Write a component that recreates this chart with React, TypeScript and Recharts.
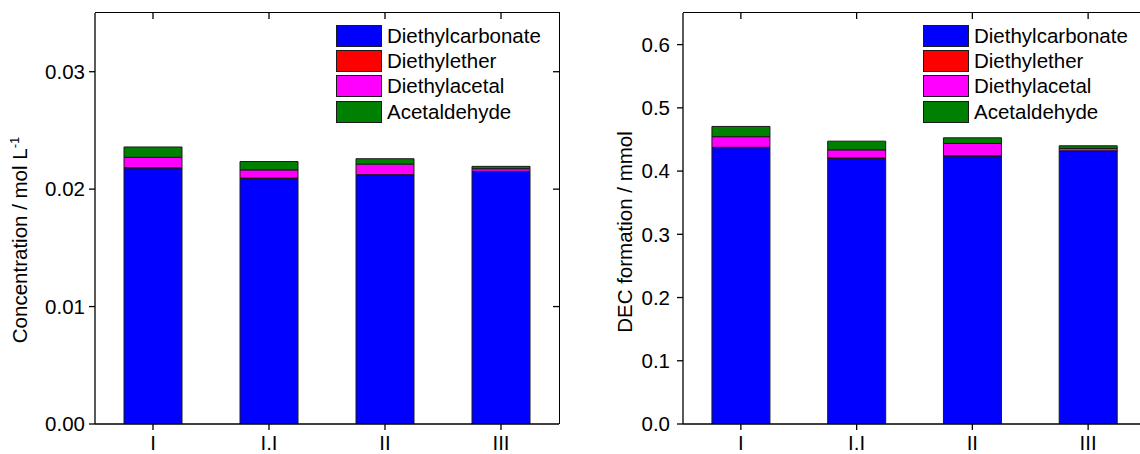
import React from "react";
import { BarChart, Bar, XAxis, YAxis, Legend } from "recharts";

const FONT = '"Liberation Sans", Arial, Helvetica, sans-serif';
const FS = 20.5;
const TICK = 6;
const PLOT_TOP = 13;
const PLOT_H = 411;

const categories = ["I", "I.I", "II", "III"];
const seriesNames = ["Diethylcarbonate", "Diethylether", "Diethylacetal", "Acetaldehyde"];
const seriesKeys = ["dec", "ether", "acetal", "acetaldehyde"];
const seriesColors = ["#0000ff", "#ff0000", "#ff00ff", "#008000"];

// left panel: concentration / mol L-1
const concDec = [0.0218, 0.0209, 0.0212, 0.0215];
const concEther = [0.00003, 0.00004, 0.00003, 0.00002];
const concAcetal = [0.00088, 0.0007, 0.0009, 0.00022];
const concAcetaldehyde = [0.00088, 0.00071, 0.00046, 0.0002];
const concTicks = [0, 0.01, 0.02, 0.03];

// right panel: DEC formation / mmol
const amountDec = [0.437, 0.42, 0.4237, 0.4316];
const amountEther = [0.0006, 0.0008, 0.0006, 0.0004];
const amountAcetal = [0.0168, 0.0128, 0.0194, 0.0038];
const amountAcetaldehyde = [0.0162, 0.0137, 0.0089, 0.0042];
const amountTicks = [0, 0.1, 0.2, 0.3, 0.4, 0.5, 0.6];

const buildRows = (dec: number[], ether: number[], acetal: number[], ald: number[]) =>
  categories.map((name, i) => ({
    name,
    dec: dec[i],
    ether: ether[i],
    acetal: acetal[i],
    acetaldehyde: ald[i],
  }));

const concRows = buildRows(concDec, concEther, concAcetal, concAcetaldehyde);
const amountRows = buildRows(amountDec, amountEther, amountAcetal, amountAcetaldehyde);

const axisStroke = { stroke: "#000", strokeWidth: 1.3 };

// bottom tick: label plus the mirrored inward tick on the top edge
const makeXTick = () => (props: any) => {
  const { x, y, payload } = props;
  return (
    <g>
      <text x={x} y={y} dy="0.71em" textAnchor="middle" fill="#000" fontSize={FS} fontFamily={FONT}>
        {payload.value}
      </text>
      <path
        d={`M${x},${PLOT_TOP}L${x},${PLOT_TOP + TICK}`}
        stroke="#000"
        strokeWidth={1.3}
        fill="none"
      />
    </g>
  );
};

// left tick: label plus the mirrored inward tick on the right edge
const makeYTick = (digits: number, tickMargin: number, plotW: number) => (props: any) => {
  const { x, y, payload } = props;
  const edge = x + TICK + tickMargin + plotW;
  return (
    <g>
      <text x={x} y={y} dy="0.355em" textAnchor="end" fill="#000" fontSize={FS} fontFamily={FONT}>
        {Number(payload.value).toFixed(digits)}
      </text>
      {payload.value > 0 && (
        <path d={`M${edge - TICK},${y}L${edge},${y}`} stroke="#000" strokeWidth={1.3} fill="none" />
      )}
    </g>
  );
};

const renderLegend = () => (
  <div style={{ fontFamily: FONT, fontSize: FS, color: "#000", lineHeight: "22px" }}>
    {seriesNames.map((n, i) => (
      <div key={n} style={{ display: "flex", alignItems: "center", height: 25.4 }}>
        <div
          style={{
            width: 44,
            height: 20,
            background: seriesColors[i],
            border: "1px solid #1a1a1a",
            marginRight: 5,
          }}
        />
        <span>{n}</span>
      </div>
    ))}
  </div>
);

interface PanelProps {
  data: typeof concRows;
  width: number;
  yWidth: number;
  domain: [number, number];
  ticks: number[];
  digits: number;
  tickMargin: number;
  title: React.ReactNode;
  titleX: number;
  titleY: number;
  legendLeft: number;
}

const Panel: React.FC<PanelProps> = (p) => {
  const plotW = p.width - p.yWidth;

  const titleContent = (props: any) => {
    const vb = props.viewBox || {};
    const vx = typeof vb.x === "number" ? vb.x : 0;
    const cx = vx + p.titleX;
    const cy = p.titleY;
    return (
      <text
        x={cx}
        y={cy}
        transform={`rotate(-90 ${cx} ${cy})`}
        textAnchor="middle"
        fill="#000"
        fontSize={FS}
        fontFamily={FONT}
      >
        {p.title}
      </text>
    );
  };

  return (
    <div style={{ position: "relative", width: p.width, height: 454 }}>
      <BarChart
        width={p.width}
        height={454}
        data={p.data}
        margin={{ top: PLOT_TOP, right: 0, left: 0, bottom: 0 }}
        barCategoryGap="25%"
      >
        <XAxis
          dataKey="name"
          height={30}
          tickSize={TICK}
          tickMargin={5}
          axisLine={axisStroke}
          tickLine={axisStroke}
          tick={makeXTick()}
          interval={0}
        />
        <YAxis
          type="number"
          domain={p.domain}
          ticks={p.ticks}
          width={p.yWidth}
          tickSize={TICK}
          tickMargin={p.tickMargin}
          axisLine={axisStroke}
          tickLine={axisStroke}
          tick={makeYTick(p.digits, p.tickMargin, plotW)}
          allowDataOverflow
          label={{ content: titleContent }}
        />
        {seriesKeys.map((k, i) => (
          <Bar
            key={k}
            dataKey={k}
            name={seriesNames[i]}
            stackId="s"
            fill={seriesColors[i]}
            stroke="#1a1a1a"
            strokeWidth={1}
            isAnimationActive={false}
          />
        ))}
        <Legend
          layout="horizontal"
          verticalAlign="middle"
          align="center"
          content={renderLegend}
          wrapperStyle={{ left: p.legendLeft, top: 23, width: "auto", height: "auto" }}
        />
      </BarChart>
      {/* top and right edges of the plot frame */}
      <div
        style={{
          position: "absolute",
          left: p.yWidth,
          top: PLOT_TOP - 0.65,
          width: plotW + 0.65,
          height: PLOT_H + 0.65,
          borderTop: "1.3px solid #000",
          borderRight: "1.3px solid #000",
          boxSizing: "border-box",
          pointerEvents: "none",
        }}
      />
    </div>
  );
};

export default function App() {
  return (
    <div
      style={{
        position: "absolute",
        left: 0,
        top: 0,
        width: 1140,
        height: 454,
        overflow: "hidden",
        background: "#fff",
        fontFamily: FONT,
      }}
    >
      <div style={{ position: "absolute", left: 0, top: 0 }}>
        <Panel
          data={concRows}
          width={559}
          yWidth={95}
          domain={[0, 0.035]}
          ticks={concTicks}
          digits={2}
          tickMargin={4}
          title={
            <>
              Concentration / mol L
              <tspan dy={-8} fontSize={13}>
                -1
              </tspan>
            </>
          }
          titleX={27}
          titleY={240}
          legendLeft={336}
        />
      </div>
      <div style={{ position: "absolute", left: 570, top: 0 }}>
        <Panel
          data={amountRows}
          width={576}
          yWidth={113}
          domain={[0, 0.65]}
          ticks={amountTicks}
          digits={1}
          tickMargin={7}
          title="DEC formation / mmol"
          titleX={62}
          titleY={232}
          legendLeft={353}
        />
      </div>
    </div>
  );
}
